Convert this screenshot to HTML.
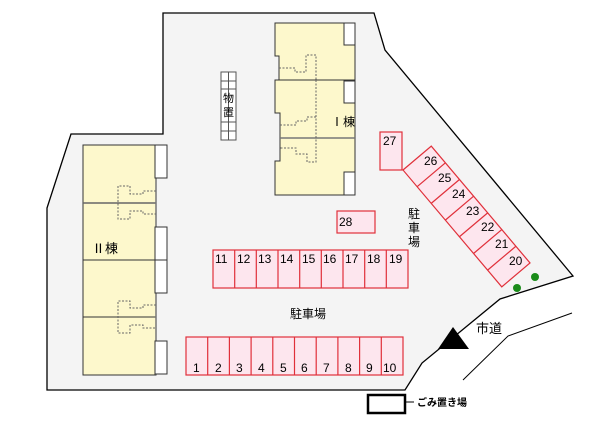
<!DOCTYPE html><html><head><style>body{margin:0;background:#fff}svg{display:block}text{font-family:"Liberation Sans","Noto Sans CJK JP",sans-serif;fill:#000}</style></head><body>
<svg width="600" height="440" viewBox="0 0 600 440" xmlns="http://www.w3.org/2000/svg">
<polygon points="163,13 374,13 385,50 573,276 500,299 422,363 405,390 47,390 47,208 71,134 163,134" fill="#f4f4f4" stroke="#000" stroke-width="1.3"/>
<polyline points="572,313 508,336 463,380" fill="none" stroke="#000" stroke-width="1"/>
<polygon points="453,327 438,349 469,349" fill="#000"/>
<text x="476" y="333" font-size="13">市道</text>
<!-- building I -->
<g stroke="#333" stroke-width="1">
<path d="M275,23H355V195H275V161H280V113H275V80H279V56H275Z" fill="#fdf8cc"/>
<line x1="275" y1="80" x2="355" y2="80"/>
<line x1="280" y1="138" x2="355" y2="138" stroke="#777" stroke-width="1.5"/>
<rect x="344" y="23" width="11" height="22" fill="#fff"/>
<rect x="344" y="81" width="11" height="22" fill="#fff"/>
<rect x="344" y="172" width="11" height="23" fill="#fff"/>
</g>
<g stroke="#666" stroke-width="1" stroke-dasharray="2,1.5" fill="none">
<path d="M279,68H295V72H306V55H316V80"/>
<path d="M280,125H296V121H307V117H316V162H307V154H296V148H280"/>
<path d="M316,80V117"/>
</g>
<text x="331" y="126" font-size="12">Ⅰ棟</text>
<!-- storage -->
<g stroke="#555" fill="#fff" stroke-width="1">
<rect x="221" y="72" width="15" height="68"/>
<line x1="228.5" y1="72" x2="228.5" y2="140"/>
<line x1="221" y1="81" x2="236" y2="81"/><line x1="221" y1="89" x2="236" y2="89"/>
<line x1="221" y1="122" x2="236" y2="122"/><line x1="221" y1="131" x2="236" y2="131"/>
</g>
<text x="228.5" y="102" font-size="11" text-anchor="middle">物</text>
<text x="228.5" y="116" font-size="11" text-anchor="middle">置</text>
<!-- building II -->
<g stroke="#333" stroke-width="1">
<rect x="83" y="145" width="73" height="230" fill="#fdf8cc"/>
<line x1="83" y1="203" x2="156" y2="203" stroke="#666" stroke-width="1.5"/>
<line x1="83" y1="260" x2="156" y2="260"/>
<line x1="83" y1="317" x2="156" y2="317"/>
<line x1="156" y1="145" x2="156" y2="375" stroke="#777" stroke-width="1.5"/>
<rect x="155" y="145" width="12" height="33" fill="#fff"/>
<rect x="155" y="227" width="12" height="33" fill="#fff"/>
<rect x="155" y="260" width="12" height="33" fill="#fff"/>
<rect x="155" y="341" width="12" height="33" fill="#fff"/>
</g>
<g stroke="#666" stroke-width="1" stroke-dasharray="2,1.5" fill="none">
<path d="M156,191H143V194H130V186H118V219H130V211H143V214H156"/>
<path d="M156,305H143V308H130V301H118V333H130V325H143V328H156"/>
</g>
<text x="92" y="253" font-size="13">Ⅱ棟</text>
<!-- parking -->
<g fill="#fde6ee" stroke="#e0303a" stroke-width="1.2">
<rect x="380" y="132" width="22" height="38"/>
<rect x="337" y="211" width="38" height="22"/>
<rect x="213" y="250" width="195" height="38"/>
<rect x="186" y="337" width="217" height="38"/>
<g transform="translate(403,170) rotate(-40.2)">
<rect x="0" y="0" width="37" height="153"/>
</g>
</g>
<g stroke="#e0303a" stroke-width="1.2">
<line x1="234.7" y1="250" x2="234.7" y2="288"/><line x1="256.3" y1="250" x2="256.3" y2="288"/><line x1="278" y1="250" x2="278" y2="288"/><line x1="299.7" y1="250" x2="299.7" y2="288"/><line x1="321.3" y1="250" x2="321.3" y2="288"/><line x1="343" y1="250" x2="343" y2="288"/><line x1="364.7" y1="250" x2="364.7" y2="288"/><line x1="386.3" y1="250" x2="386.3" y2="288"/>
<line x1="207.7" y1="337" x2="207.7" y2="375"/><line x1="229.4" y1="337" x2="229.4" y2="375"/><line x1="251.1" y1="337" x2="251.1" y2="375"/><line x1="272.8" y1="337" x2="272.8" y2="375"/><line x1="294.5" y1="337" x2="294.5" y2="375"/><line x1="316.2" y1="337" x2="316.2" y2="375"/><line x1="337.9" y1="337" x2="337.9" y2="375"/><line x1="359.6" y1="337" x2="359.6" y2="375"/><line x1="381.3" y1="337" x2="381.3" y2="375"/>
<g transform="translate(403,170) rotate(-40.2)">
<line x1="0" y1="21.9" x2="37" y2="21.9"/><line x1="0" y1="43.7" x2="37" y2="43.7"/><line x1="0" y1="65.6" x2="37" y2="65.6"/><line x1="0" y1="87.4" x2="37" y2="87.4"/><line x1="0" y1="109.3" x2="37" y2="109.3"/><line x1="0" y1="131.1" x2="37" y2="131.1"/>
</g>
</g>
<g font-size="12">
<text x="383" y="145">27</text><text x="339" y="226">28</text>
<text x="215" y="263">11</text><text x="237" y="263">12</text><text x="258" y="263">13</text><text x="280" y="263">14</text><text x="302" y="263">15</text><text x="323" y="263">16</text><text x="345" y="263">17</text><text x="367" y="263">18</text><text x="389" y="263">19</text>
<text x="193" y="372">1</text><text x="215" y="372">2</text><text x="236" y="372">3</text><text x="258" y="372">4</text><text x="280" y="372">5</text><text x="301" y="372">6</text><text x="323" y="372">7</text><text x="345" y="372">8</text><text x="366" y="372">9</text><text x="383" y="372">10</text>
<text x="424" y="165">26</text><text x="438" y="182">25</text><text x="452" y="198">24</text><text x="466" y="215">23</text><text x="481" y="231">22</text><text x="495" y="248">21</text><text x="509" y="265">20</text>
<text x="290" y="318">駐車場</text>
<text x="408" y="218">駐</text><text x="408" y="232">車</text><text x="408" y="246">場</text>
</g>
<circle cx="517" cy="288" r="4" fill="#1a8c1a"/><circle cx="535" cy="277" r="4" fill="#1a8c1a"/>
<rect x="368" y="395" width="37" height="18" fill="#fff" stroke="#000" stroke-width="2.5"/>
<line x1="406" y1="402" x2="414" y2="402" stroke="#000"/>
<text x="417" y="406" font-size="10" font-weight="bold">ごみ置き場</text>
</svg>
</body></html>
